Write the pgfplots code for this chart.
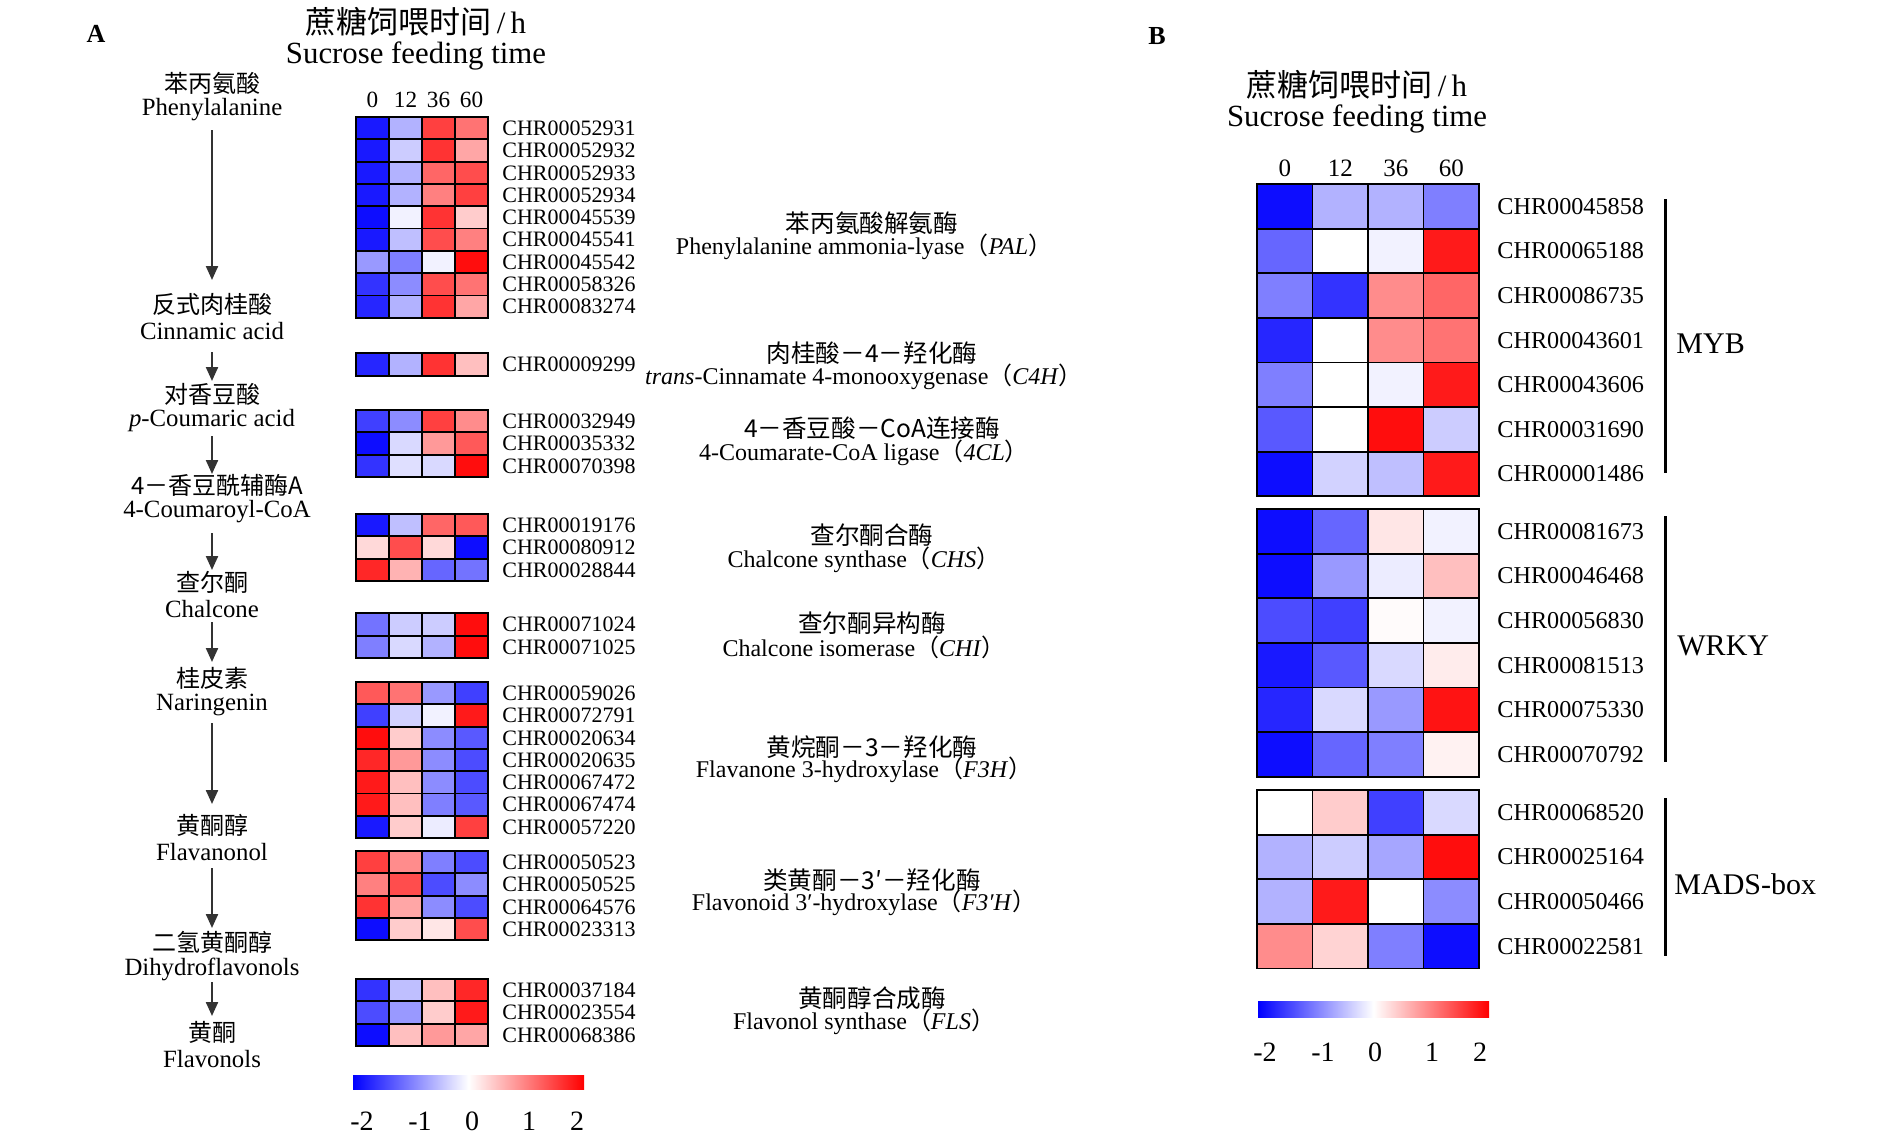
\documentclass[border=0pt]{standalone}
\usepackage{fontspec}
\setmainfont{Liberation Serif}
\newfontfamily\cjk{Noto Sans CJK SC}
\usepackage{pgfplots}
\usepackage{pgfplotstable}
\pgfplotsset{compat=1.18}
\usetikzlibrary{arrows.meta}

\pgfdeclareplotmark{cellA}{\pgfpathrectangle{\pgfpoint{-8.25pt}{-5.575pt}}{\pgfpoint{16.5pt}{11.15pt}}\pgfusepathqfillstroke}
\pgfdeclareplotmark{cellB}{\pgfpathrectangle{\pgfpoint{-13.875pt}{-11.15pt}}{\pgfpoint{27.75pt}{22.3pt}}\pgfusepathqfillstroke}

% Panel A: row centre (image px), z-scores at 0, 12, 36, 60 h
\pgfplotstableread{
y c0 c1 c2 c3
128.2 -1.8 -0.6 1.5 1.1
150.5 -1.8 -0.4 1.6 0.7
172.8 -1.8 -0.6 1.2 1.4
195.1 -1.8 -0.6 1.0 1.5
217.4 -1.9 -0.1 1.6 0.4
239.7 -1.8 -0.5 1.4 1.0
262.0 -0.8 -1.0 -0.1 1.9
284.3 -1.6 -0.9 1.4 1.1
306.6 -1.7 -0.6 1.6 0.7
364.5 -1.7 -0.6 1.6 0.5
421.2 -1.5 -0.9 1.5 0.9
443.5 -1.9 -0.3 0.8 1.3
465.8 -1.6 -0.25 -0.3 1.9
525.2 -1.8 -0.5 1.2 1.3
547.5 0.3 1.4 0.3 -1.9
569.8 1.7 0.6 -1.2 -1.1
624.5 -1.1 -0.4 -0.4 1.9
646.8 -1.0 -0.3 -0.6 1.9
693.2 1.3 1.1 -0.8 -1.5
715.5 -1.5 -0.35 -0.1 1.8
737.8 1.9 0.4 -0.9 -1.3
760.1 1.7 0.8 -0.9 -1.4
782.4 1.8 0.5 -0.9 -1.4
804.7 1.8 0.5 -1.0 -1.3
827.0 -1.8 0.4 -0.15 1.5
862.2 1.5 0.9 -1.0 -1.4
884.5 1.0 1.4 -1.4 -0.9
906.8 1.6 0.7 -0.9 -1.4
929.1 -1.9 0.4 0.2 1.4
990.2 -1.6 -0.5 0.5 1.7
1012.5 -1.4 -0.8 0.4 1.8
1034.8 -1.9 0.5 0.8 0.7
}\tabA

% Panel B
\pgfplotstableread{
y c0 c1 c2 c3
206.3 -1.9 -0.6 -0.6 -1.0
250.9 -1.2 0.0 -0.1 1.8
295.5 -1.0 -1.6 0.9 1.2
340.1 -1.7 0.0 0.9 1.1
384.7 -1.0 0.0 -0.1 1.8
429.3 -1.3 0.0 1.9 -0.4
473.9 -1.9 -0.35 -0.5 1.8
531.3 -1.9 -1.2 0.2 -0.1
575.9 -1.9 -0.8 -0.15 0.5
620.5 -1.4 -1.5 0.03 -0.1
665.1 -1.8 -1.3 -0.3 0.15
709.7 -1.7 -0.3 -0.8 1.85
754.3 -1.9 -1.2 -1.0 0.1
812.3 0.0 0.4 -1.5 -0.3
856.9 -0.6 -0.4 -0.7 1.9
901.5 -0.6 1.8 0.0 -0.9
946.1 0.9 0.35 -1.0 -1.9
}\tabB

\pgfplotsset{heat/.style={scatter, only marks, point meta=explicit,
  scatter/use mapped color={draw=black, fill=mapped color}, line width=0.9pt}}

\newcommand{\gA}[2]{\node[anchor=west, inner sep=0pt, font=\fontsize{11}{12}\selectfont] at (axis cs:502,#1) {#2};}
\newcommand{\gB}[2]{\node[anchor=west, inner sep=0pt, font=\fontsize{12.1}{13}\selectfont] at (axis cs:1497,#1) {#2};}
\newcommand{\cmpd}[4]{\node[inner sep=0pt, font=\cjk\fontsize{12}{13}\selectfont] at (axis cs:#1,#2) {#3};
  \node[inner sep=0pt, font=\fontsize{12.4}{13}\selectfont] at (axis cs:#1,#2+27) {#4};}
\newcommand{\enz}[4]{\node[inner sep=0pt, font=\cjk\fontsize{12.3}{13}\selectfont] at (axis cs:872,#1) {#2};
  \node[inner sep=0pt, font=\fontsize{12}{13}\selectfont] at (axis cs:864,#3) {#4};}
\newcommand{\parr}[1]{{\cjk （}\textit{#1}{\cjk ）}}
\newcommand{\colA}[2]{\node[inner sep=0pt, font=\fontsize{11.6}{12}\selectfont] at (axis cs:#1,100) {#2};}
\newcommand{\colB}[2]{\node[inner sep=0pt, font=\fontsize{12.5}{13}\selectfont] at (axis cs:#1,168) {#2};}
\newcommand{\arr}[2]{\draw[black!80, line width=1.1pt, -{Triangle[width=6pt,length=7pt]}] (axis cs:212,#1) -- (axis cs:212,#2);}
\newcommand{\cbl}[3]{\node[inner sep=0pt, font=\fontsize{14}{15}\selectfont] at (axis cs:#1,#2) {#3};}

\begin{document}
\begin{tikzpicture}
\begin{axis}[width=945pt, height=573pt, scale only axis,
  xmin=0, xmax=1890, ymin=0, ymax=1146, y dir=reverse,
  hide axis, clip=false,
  colormap={bwr}{rgb255(0cm)=(0,0,255); rgb255(1cm)=(255,255,255); rgb255(2cm)=(255,0,0)},
  point meta min=-2, point meta max=2]

% ---------- Panel A heatmap ----------
\addplot[heat, mark=cellA] table[x expr=372.5, y=y, meta=c0] {\tabA};
\addplot[heat, mark=cellA] table[x expr=405.5, y=y, meta=c1] {\tabA};
\addplot[heat, mark=cellA] table[x expr=438.5, y=y, meta=c2] {\tabA};
\addplot[heat, mark=cellA] table[x expr=471.5, y=y, meta=c3] {\tabA};

% ---------- Panel B heatmap ----------
\addplot[heat, mark=cellB] table[x expr=1284.75, y=y, meta=c0] {\tabB};
\addplot[heat, mark=cellB] table[x expr=1340.25, y=y, meta=c1] {\tabB};
\addplot[heat, mark=cellB] table[x expr=1395.75, y=y, meta=c2] {\tabB};
\addplot[heat, mark=cellB] table[x expr=1451.25, y=y, meta=c3] {\tabB};

% panel letters
\node[font=\bfseries\fontsize{13}{14}\selectfont] at (axis cs:96,34) {A};
\node[font=\bfseries\fontsize{13}{14}\selectfont] at (axis cs:1157,36) {B};

% titles
\node[inner sep=0pt, font=\fontsize{15.5}{16}\selectfont] at (axis cs:416,22) {{\cjk 蔗糖饲喂时间}\,/\,h};
\node[inner sep=0pt, font=\fontsize{15.4}{16}\selectfont] at (axis cs:416,56) {Sucrose feeding time};
\node[inner sep=0pt, font=\fontsize{15.5}{16}\selectfont] at (axis cs:1357,85) {{\cjk 蔗糖饲喂时间}\,/\,h};
\node[inner sep=0pt, font=\fontsize{15.4}{16}\selectfont] at (axis cs:1357,119) {Sucrose feeding time};

% column labels
\colA{372.5}{0}\colA{405.5}{12}\colA{438.5}{36}\colA{471.5}{60}
\colB{1284.75}{0}\colB{1340.25}{12}\colB{1395.75}{36}\colB{1451.25}{60}

% gene labels A
\gA{128.2}{CHR00052931}\gA{150.5}{CHR00052932}\gA{172.8}{CHR00052933}
\gA{195.1}{CHR00052934}\gA{217.4}{CHR00045539}\gA{239.7}{CHR00045541}
\gA{262.0}{CHR00045542}\gA{284.3}{CHR00058326}\gA{306.6}{CHR00083274}
\gA{364.5}{CHR00009299}
\gA{421.2}{CHR00032949}\gA{443.5}{CHR00035332}\gA{465.8}{CHR00070398}
\gA{525.2}{CHR00019176}\gA{547.5}{CHR00080912}\gA{569.8}{CHR00028844}
\gA{624.5}{CHR00071024}\gA{646.8}{CHR00071025}
\gA{693.2}{CHR00059026}\gA{715.5}{CHR00072791}\gA{737.8}{CHR00020634}
\gA{760.1}{CHR00020635}\gA{782.4}{CHR00067472}\gA{804.7}{CHR00067474}
\gA{827.0}{CHR00057220}
\gA{862.2}{CHR00050523}\gA{884.5}{CHR00050525}\gA{906.8}{CHR00064576}
\gA{929.1}{CHR00023313}
\gA{990.2}{CHR00037184}\gA{1012.5}{CHR00023554}\gA{1034.8}{CHR00068386}

% gene labels B
\gB{206.3}{CHR00045858}\gB{250.9}{CHR00065188}\gB{295.5}{CHR00086735}
\gB{340.1}{CHR00043601}\gB{384.7}{CHR00043606}\gB{429.3}{CHR00031690}
\gB{473.9}{CHR00001486}
\gB{531.3}{CHR00081673}\gB{575.9}{CHR00046468}\gB{620.5}{CHR00056830}
\gB{665.1}{CHR00081513}\gB{709.7}{CHR00075330}\gB{754.3}{CHR00070792}
\gB{812.3}{CHR00068520}\gB{856.9}{CHR00025164}\gB{901.5}{CHR00050466}
\gB{946.1}{CHR00022581}

% family brackets B
\draw[line width=1.5pt] (axis cs:1665,199) -- (axis cs:1665,473);
\draw[line width=1.5pt] (axis cs:1665,516) -- (axis cs:1665,762);
\draw[line width=1.5pt] (axis cs:1665,798) -- (axis cs:1665,956);
\node[anchor=west, inner sep=0pt, font=\fontsize{15}{16}\selectfont] at (axis cs:1676,344) {MYB};
\node[anchor=west, inner sep=0pt, font=\fontsize{15}{16}\selectfont] at (axis cs:1677,646) {WRKY};
\node[anchor=west, inner sep=0pt, font=\fontsize{15}{16}\selectfont] at (axis cs:1674,884) {MADS-box};

% pathway compounds
\cmpd{212}{83}{苯丙氨酸}{Phenylalanine}
\cmpd{212}{304}{反式肉桂酸}{Cinnamic acid}
\cmpd{212}{394}{对香豆酸}{\textit{p}-Coumaric acid}
\cmpd{217}{485}{4－香豆酰辅酶A}{4-Coumaroyl-CoA}
\cmpd{212}{582}{查尔酮}{Chalcone}
\cmpd{212}{678}{桂皮素}{Naringenin}
\cmpd{212}{825}{黄酮醇}{Flavanonol}
\cmpd{212}{942}{二氢黄酮醇}{Dihydroflavonols}
\cmpd{212}{1032}{黄酮}{Flavonols}

% pathway arrows
\arr{130}{280}\arr{352}{381}\arr{436}{474}\arr{533}{570}
\arr{622}{662}\arr{723}{804}\arr{868}{928}\arr{982}{1016}

% enzymes
\enz{223}{苯丙氨酸解氨酶}{247}{Phenylalanine ammonia-lyase\parr{PAL}}
\enz{353}{肉桂酸－4－羟化酶}{377}{\textit{trans}-Cinnamate 4-monooxygenase\parr{C4H}}
\enz{428}{4－香豆酸－CoA连接酶}{453}{4-Coumarate-CoA ligase\parr{4CL}}
\enz{535}{查尔酮合酶}{560}{Chalcone synthase\parr{CHS}}
\enz{623}{查尔酮异构酶}{647}{Chalcone isomerase\parr{CHI}}
\enz{747}{黄烷酮－3－羟化酶}{770}{Flavanone 3-hydroxylase\parr{F3H}}
\enz{880}{类黄酮－3′－羟化酶}{903}{Flavonoid 3′-hydroxylase\parr{F3′H}}
\enz{998}{黄酮醇合成酶}{1022}{Flavonol synthase\parr{FLS}}

% colour bars
\shade[left color=blue, right color=red, middle color=white] (axis cs:353,1075) rectangle (axis cs:584,1089);
\cbl{362}{1121}{-2}\cbl{420}{1121}{-1}\cbl{472}{1121}{0}\cbl{529}{1121}{1}\cbl{577}{1121}{2}
\shade[left color=blue, right color=red, middle color=white] (axis cs:1258,1001) rectangle (axis cs:1489,1017);
\cbl{1265}{1052}{-2}\cbl{1323}{1052}{-1}\cbl{1375}{1052}{0}\cbl{1432}{1052}{1}\cbl{1480}{1052}{2}

\end{axis}
\pgfresetboundingbox
\path (0,0) rectangle (945pt,573pt);
\end{tikzpicture}
\end{document}
